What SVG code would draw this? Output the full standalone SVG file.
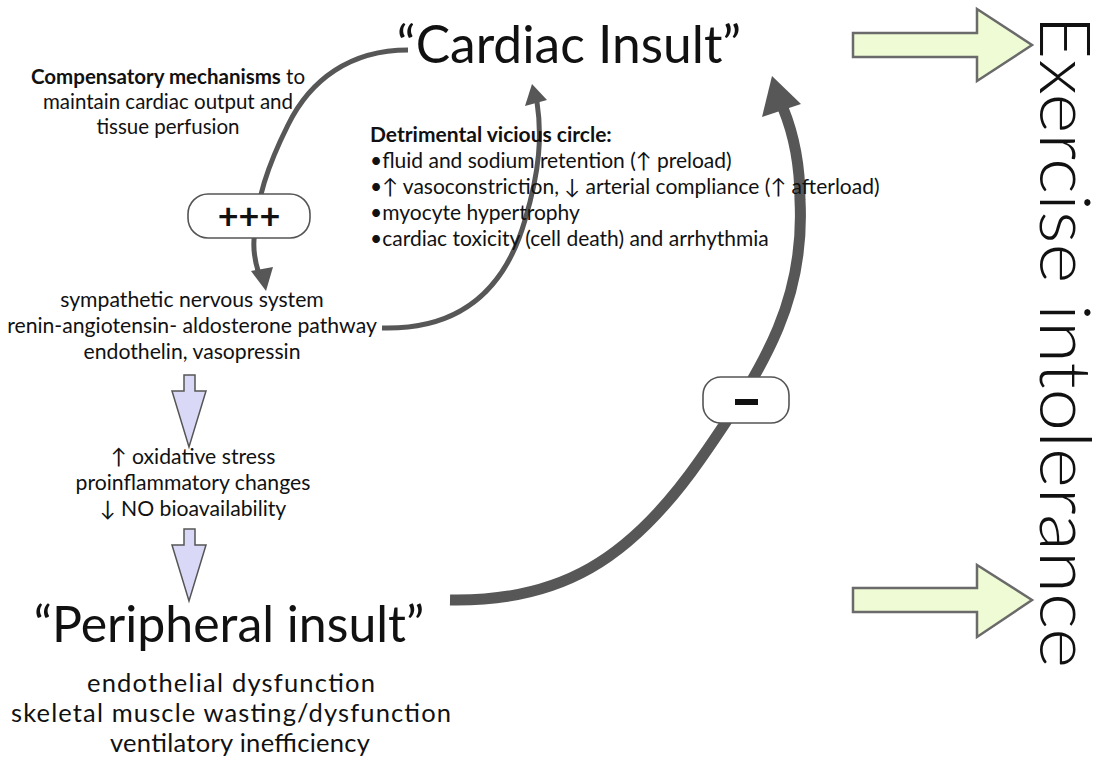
<svg xmlns="http://www.w3.org/2000/svg" width="1110" height="761" viewBox="0 0 1110 761">
<style>
text{font-family:Lato,"Open Sans","Liberation Sans",sans-serif;fill:#111}
.c{text-anchor:middle}
.curve{fill:none;stroke:#575757;stroke-linecap:butt}
.head{fill:#575757}
.lav{fill:#d9d9f7;stroke:#555;stroke-width:1.5}
.grn{fill:#effbd4;stroke:#6a6a6a;stroke-width:2.5}
.badge{fill:#fff;stroke:#555;stroke-width:1.6}
</style>
<rect width="1110" height="761" fill="#fff"/>
<g id="connectors">
<path class="curve" stroke-width="5" d="M408,50 C350,50 310,80 288,125 C268,165 256,200 254,240 C253,255 256,265 259,274"/>
<polygon class="head" points="266,291 251,271 273,267"/>
<path class="curve" stroke-width="5" d="M382,328 C460,330 505,290 525,220 C540,170 542,135 537,102"/>
<polygon class="head" points="532,84 525,106 547,100"/>
<path class="curve" stroke-width="11" d="M450,600 C560,602 630,560 700,460 C770,360 805,295 800,200 C800,160 792,130 783,108"/>
<polygon class="head" points="772,76 762,117 801,104"/>
<polygon class="lav" points="184,375 195,375 195,391 206,391 189,447 172,391 184,391"/>
<polygon class="lav" points="184,529 195,529 195,545 206,545 189,601 172,545 184,545"/>
<polygon class="grn" points="853,33 977,33 977,9 1032,45 977,81 977,57 853,57"/>
<polygon class="grn" points="853,588 977,588 977,565 1032,600 977,637 977,612 853,612"/>
</g>
<g id="cardiac-insult"><text class="c" x="569" y="63" font-size="51.5">“Cardiac Insult”</text></g>
<g id="compensatory" font-size="20.5">
<text class="c" x="168" y="84"><tspan font-weight="bold">Compensatory mechanisms</tspan> to</text>
<text class="c" x="168" y="109">maintain cardiac output and</text>
<text class="c" x="168" y="134">tissue perfusion</text>
</g>
<g id="detrimental" font-size="21">
<text x="370" y="142" font-weight="bold">Detrimental vicious circle:</text>
<text x="370" y="168">•fluid and sodium retention (↑ preload)</text>
<text x="370" y="194">•↑ vasoconstriction, ↓ arterial compliance (↑ afterload)</text>
<text x="370" y="220">•myocyte hypertrophy</text>
<text x="370" y="246">•cardiac toxicity (cell death) and arrhythmia</text>
</g>
<g id="plus-badge">
<rect class="badge" x="188" y="194" width="122" height="44" rx="20"/>
<text class="c" x="249" y="229" font-size="36" font-weight="bold">+++</text>
</g>
<g id="minus-badge">
<rect class="badge" x="703" y="377" width="86" height="46" rx="18"/>
<rect x="735" y="399" width="23" height="6" fill="#111"/>
</g>
<g id="neurohormonal" font-size="21.2">
<text class="c" x="192" y="307">sympathetic nervous system</text>
<text class="c" x="192" y="333">renin-angiotensin- aldosterone pathway</text>
<text class="c" x="192" y="359">endothelin, vasopressin</text>
</g>
<g id="oxidative" font-size="21.2">
<text class="c" x="193" y="464">↑ oxidative stress</text>
<text class="c" x="193" y="490">proinflammatory changes</text>
<text class="c" x="193" y="516">↓ NO bioavailability</text>
</g>
<g id="peripheral-insult">
<text class="c" x="229" y="642" font-size="50">“Peripheral insult”</text>
<text class="c" x="231" y="692" font-size="25.5" textLength="288" lengthAdjust="spacing">endothelial dysfunction</text>
<text class="c" x="231" y="722" font-size="25.5" textLength="440" lengthAdjust="spacing">skeletal muscle wasting/dysfunction</text>
<text class="c" x="240" y="752" font-size="25.5" textLength="260" lengthAdjust="spacing">ventilatory inefficiency</text>
</g>
<g id="exercise-intolerance">
<text transform="translate(1040,15) rotate(90)" x="0" y="0" font-size="70" font-weight="300" textLength="653" lengthAdjust="spacingAndGlyphs">Exercise intolerance</text>
</g>
</svg>
